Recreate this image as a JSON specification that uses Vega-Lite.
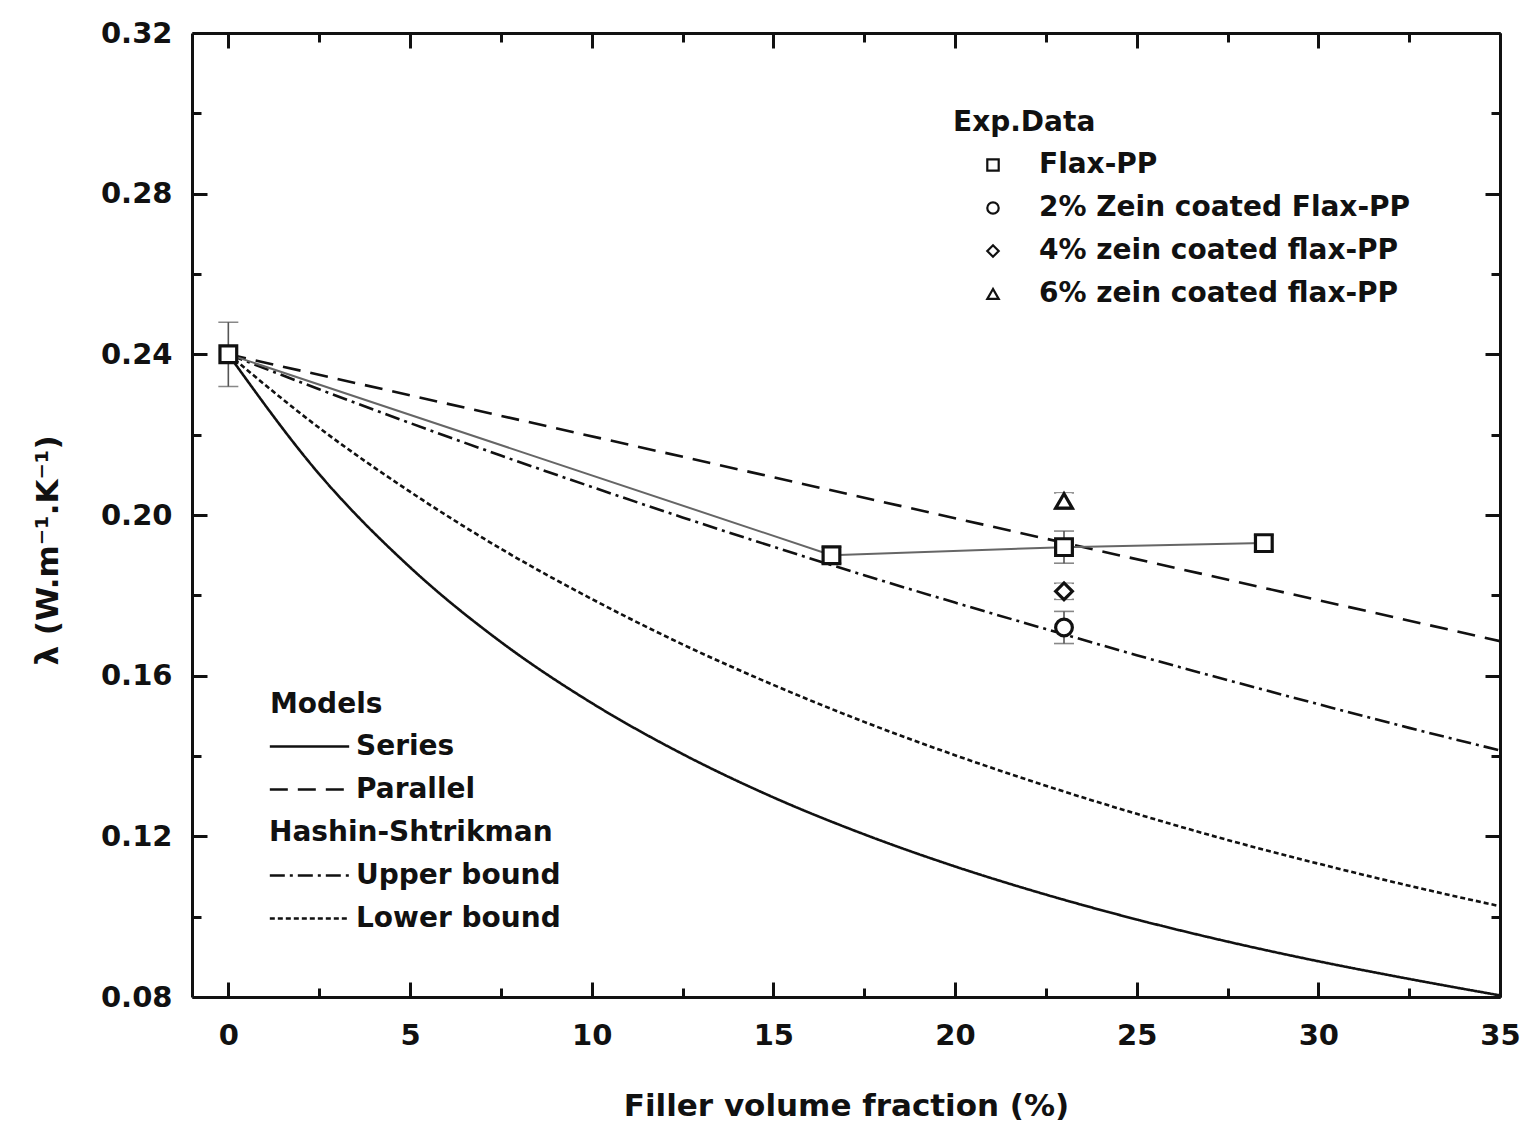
{
  "$schema": "https://vega.github.io/schema/vega-lite/v6.json",
  "autosize": "none",
  "width": 1308,
  "height": 964,
  "padding": {"left": 192, "top": 33, "right": 29, "bottom": 130},
  "background": "white",
  "config": {
    "view": {"stroke": null},
    "font": "DejaVu Sans",
    "axis": {
      "domainColor": "#111", "domainWidth": 3, "tickColor": "#111", "tickWidth": 3,
      "labelFont": "DejaVu Sans", "labelFontWeight": "bold", "labelFontSize": 29, "labelColor": "#111",
      "titleFont": "DejaVu Sans", "titleFontWeight": "bold", "titleFontSize": 31, "titleColor": "#111",
      "grid": false
    },
    "legend": {
      "labelFont": "DejaVu Sans", "labelFontWeight": "bold", "labelFontSize": 28, "labelColor": "#111",
      "titleFont": "DejaVu Sans", "titleFontWeight": "bold", "titleFontSize": 28, "titleColor": "#111",
      "padding": 0, "labelLimit": 0
    }
  },
  "datasets": {
    "models": [
      {"x": 0, "y": 0.24, "model": "Series"},
      {"x": 2.5, "y": 0.2102, "model": "Series"},
      {"x": 5, "y": 0.187, "model": "Series"},
      {"x": 7.5, "y": 0.1684, "model": "Series"},
      {"x": 10, "y": 0.1532, "model": "Series"},
      {"x": 12.5, "y": 0.1405, "model": "Series"},
      {"x": 15, "y": 0.1297, "model": "Series"},
      {"x": 17.5, "y": 0.1205, "model": "Series"},
      {"x": 20, "y": 0.1125, "model": "Series"},
      {"x": 22.5, "y": 0.1055, "model": "Series"},
      {"x": 25, "y": 0.0993, "model": "Series"},
      {"x": 27.5, "y": 0.0938, "model": "Series"},
      {"x": 30, "y": 0.0889, "model": "Series"},
      {"x": 32.5, "y": 0.0845, "model": "Series"},
      {"x": 35, "y": 0.0804, "model": "Series"},
      {"x": 0, "y": 0.24, "model": "Parallel"},
      {"x": 35, "y": 0.1686, "model": "Parallel"},
      {"x": 0, "y": 0.24, "model": "Upper bound"},
      {"x": 2.5, "y": 0.2313, "model": "Upper bound"},
      {"x": 5, "y": 0.2229, "model": "Upper bound"},
      {"x": 7.5, "y": 0.2148, "model": "Upper bound"},
      {"x": 10, "y": 0.207, "model": "Upper bound"},
      {"x": 12.5, "y": 0.1994, "model": "Upper bound"},
      {"x": 15, "y": 0.1921, "model": "Upper bound"},
      {"x": 17.5, "y": 0.185, "model": "Upper bound"},
      {"x": 20, "y": 0.1782, "model": "Upper bound"},
      {"x": 22.5, "y": 0.1716, "model": "Upper bound"},
      {"x": 25, "y": 0.1651, "model": "Upper bound"},
      {"x": 27.5, "y": 0.1589, "model": "Upper bound"},
      {"x": 30, "y": 0.1529, "model": "Upper bound"},
      {"x": 32.5, "y": 0.147, "model": "Upper bound"},
      {"x": 35, "y": 0.1414, "model": "Upper bound"},
      {"x": 0, "y": 0.24, "model": "Lower bound"},
      {"x": 2.5, "y": 0.2217, "model": "Lower bound"},
      {"x": 5, "y": 0.2058, "model": "Lower bound"},
      {"x": 7.5, "y": 0.1916, "model": "Lower bound"},
      {"x": 10, "y": 0.1791, "model": "Lower bound"},
      {"x": 12.5, "y": 0.1678, "model": "Lower bound"},
      {"x": 15, "y": 0.1577, "model": "Lower bound"},
      {"x": 17.5, "y": 0.1485, "model": "Lower bound"},
      {"x": 20, "y": 0.1402, "model": "Lower bound"},
      {"x": 22.5, "y": 0.1326, "model": "Lower bound"},
      {"x": 25, "y": 0.1256, "model": "Lower bound"},
      {"x": 27.5, "y": 0.1191, "model": "Lower bound"},
      {"x": 30, "y": 0.1132, "model": "Lower bound"},
      {"x": 32.5, "y": 0.1077, "model": "Lower bound"},
      {"x": 35, "y": 0.1026, "model": "Lower bound"}
    ],
    "exp": [
      {"x": 0, "y": 0.24, "lo": 0.232, "hi": 0.248, "series": "Flax-PP"},
      {"x": 16.6, "y": 0.19, "lo": 0.188, "hi": 0.192, "series": "Flax-PP"},
      {"x": 23, "y": 0.192, "lo": 0.188, "hi": 0.196, "series": "Flax-PP"},
      {"x": 28.5, "y": 0.193, "lo": 0.191, "hi": 0.195, "series": "Flax-PP"},
      {"x": 23, "y": 0.172, "lo": 0.168, "hi": 0.176, "series": "2% Zein coated Flax-PP"},
      {"x": 23, "y": 0.181, "lo": 0.179, "hi": 0.183, "series": "4% zein coated flax-PP"},
      {"x": 23, "y": 0.2035, "lo": 0.2015, "hi": 0.2055, "series": "6% zein coated flax-PP"}
    ]
  },
  "resolve": {"axis": {"x": "independent", "y": "independent"}},
  "layer": [
    {
      "data": {"name": "models"},
      "mark": {"type": "line", "strokeWidth": 2.6, "color": "#111", "clip": true, "interpolate": "monotone"},
      "encoding": {
        "x": {"field": "x", "type": "quantitative", "scale": {"domain": [-1, 35], "nice": false, "zero": false},
          "axis": {"orient": "bottom", "title": "Filler volume fraction (%)", "values": [0, 2.5, 5, 7.5, 10, 12.5, 15, 17.5, 20, 22.5, 25, 27.5, 30, 32.5, 35],
            "labelExpr": "datum.value % 5 === 0 ? datum.label : ''", "format": "d",
            "tickSize": {"condition": {"test": "datum.value % 5 === 0", "value": -15}, "value": -9},
            "labelPadding": 39, "titlePadding": 41, "labelFlush": false}},
        "y": {"field": "y", "type": "quantitative", "scale": {"domain": [0.08, 0.32], "nice": false, "zero": false},
          "axis": {"orient": "left", "title": "λ (W.m⁻¹.K⁻¹)", "titleY": 517, "values": [0.08, 0.1, 0.12, 0.14, 0.16, 0.18, 0.2, 0.22, 0.24, 0.26, 0.28, 0.3, 0.32],
            "labelExpr": "round(datum.value*100) % 4 === 0 ? format(datum.value, '.2f') : ''",
            "tickSize": {"condition": {"test": "round(datum.value*100) % 4 === 0", "value": -15}, "value": -9},
            "labelPadding": 35, "titlePadding": 36, "labelFlush": false}},
        "strokeDash": {"field": "model", "type": "nominal",
          "scale": {"domain": ["Series", "Parallel", "Hashin-Shtrikman", "Upper bound", "Lower bound"],
            "range": [[1, 0], [18, 10], [0, 1000], [15, 5, 3, 5], [5, 3]]},
          "legend": {"title": "Models", "orient": "none", "legendX": 78, "legendY": 658,
            "symbolType": "M-3,0H3", "symbolSize": 700, "symbolStrokeWidth": 2.5, "symbolStrokeColor": "#111",
            "symbolOffset": 25, "labelOffset": 32, "rowPadding": 14, "titlePadding": 13,
            "encode": {"labels": {"update": {"dx": {"signal": "datum.value === 'Hashin-Shtrikman' ? -87 : 0"}}}}}}
      }
    },
    {
      "data": {"name": "exp"},
      "transform": [{"filter": "datum.series === 'Flax-PP'"}],
      "mark": {"type": "line", "strokeWidth": 2, "color": "#666"},
      "encoding": {
        "x": {"field": "x", "type": "quantitative",
          "axis": {"orient": "top", "title": null, "labels": false, "values": [0, 2.5, 5, 7.5, 10, 12.5, 15, 17.5, 20, 22.5, 25, 27.5, 30, 32.5, 35],
            "tickSize": {"condition": {"test": "datum.value % 5 === 0", "value": -15}, "value": -9}}},
        "y": {"field": "y", "type": "quantitative",
          "axis": {"orient": "right", "title": null, "labels": false, "values": [0.08, 0.1, 0.12, 0.14, 0.16, 0.18, 0.2, 0.22, 0.24, 0.26, 0.28, 0.3, 0.32],
            "tickSize": {"condition": {"test": "round(datum.value*100) % 4 === 0", "value": -15}, "value": -9}}}
      }
    },
    {
      "data": {"name": "exp"},
      "mark": {"type": "errorbar", "ticks": {"size": 20, "thickness": 1.6, "color": "#555"}, "rule": {"strokeWidth": 1.6, "color": "#555"}},
      "encoding": {
        "x": {"field": "x", "type": "quantitative", "axis": null},
        "y": {"field": "lo", "type": "quantitative", "axis": null},
        "y2": {"field": "hi"}
      }
    },
    {
      "data": {"name": "exp"},
      "mark": {"type": "square", "filled": true, "color": "white", "opacity": 1, "size": 240},
      "encoding": {
        "x": {"field": "x", "type": "quantitative", "axis": null},
        "y": {"field": "y", "type": "quantitative", "axis": null}
      }
    },
    {
      "data": {"name": "exp"},
      "mark": {"type": "point", "filled": false, "strokeWidth": 3.2, "color": "#111", "size": 280, "opacity": 1},
      "encoding": {
        "x": {"field": "x", "type": "quantitative", "axis": null},
        "y": {"field": "y", "type": "quantitative", "axis": null},
        "shape": {"field": "series", "type": "nominal",
          "scale": {"domain": ["Flax-PP", "2% Zein coated Flax-PP", "4% zein coated flax-PP", "6% zein coated flax-PP"],
            "range": ["square", "circle", "diamond", "triangle-up"]},
          "legend": {"title": "Exp.Data", "orient": "none", "legendX": 761, "legendY": 76,
            "symbolSize": 130, "symbolStrokeWidth": 2.2, "symbolStrokeColor": "#111",
            "symbolOffset": 26, "labelOffset": 32, "rowPadding": 15, "titlePadding": 14}}
      }
    }
  ]
}
